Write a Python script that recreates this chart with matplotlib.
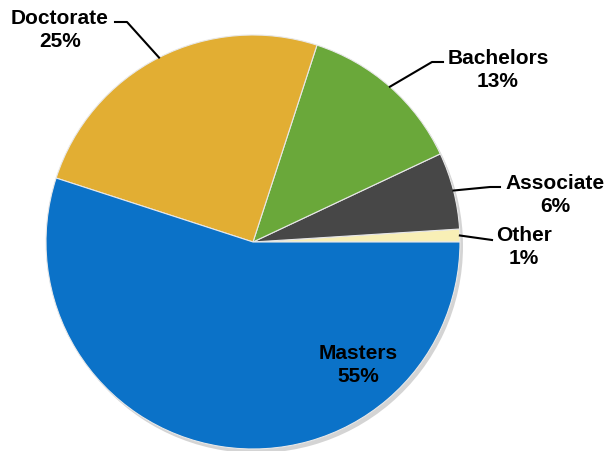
import numpy as np
import matplotlib
matplotlib.use('Agg')
from matplotlib import pyplot as plt

labels = ['Other', 'Associate', 'Bachelors', 'Doctorate', 'Masters']
shares = [1, 6, 13, 25, 55]
colors = ['#f8efb6', '#474747', '#6aa83a', '#e2ae33', '#0b72c8']

# label text centre and leader elbow, in pixel coords (y from top)
label_pos = {'Other': (524, 247), 'Associate': (555, 195), 'Bachelors': (498, 70),
             'Doctorate': (60, 30), 'Masters': (358, 365)}
elbows = {'Other': [(492, 241)], 'Associate': [(490, 188), (500, 188)],
          'Bachelors': [(432, 63), (443, 63)], 'Doctorate': [(127, 23), (115, 23)]}

W, H = 607, 452
cx, cy, r = 253, 243, 207

fig = plt.figure(figsize=(W / 100, H / 100), dpi=100)
ax = fig.add_axes([0, 0, 1, 1])

# soft shadow
ax.pie(shares, colors=['#d4d4d4'] * 5, startangle=0, counterclock=True,
       center=(cx + 3, H - cy - 4), radius=r, frame=True,
       wedgeprops=dict(linewidth=0))
wedges, _ = ax.pie(shares, colors=colors, startangle=0, counterclock=True,
                   center=(cx, H - cy), radius=r, frame=True,
                   wedgeprops=dict(edgecolor='#e8e8e8', linewidth=0.8))
ax.set_xlim(0, W)
ax.set_ylim(0, H)
ax.set_aspect('equal')
ax.axis('off')

font = dict(family=['Liberation Sans', 'DejaVu Sans'], fontweight='bold',
            fontsize=15, ha='center', va='center', color='black')

for w, lab, s in zip(wedges, labels, shares):
    tx, ty = label_pos[lab]
    ax.text(tx, H - ty, f'{lab}\n{s}%', linespacing=1.3, **font)
    if lab in elbows:
        mid = np.deg2rad((w.theta1 + w.theta2) / 2)
        x0 = cx + r * np.cos(mid)
        y0 = H - cy + r * np.sin(mid)
        xs = [x0] + [p[0] for p in elbows[lab]]
        ys = [y0] + [H - p[1] for p in elbows[lab]]
        ax.plot(xs, ys, color='black', lw=1.5)

fig.savefig('out.png', dpi=100)
